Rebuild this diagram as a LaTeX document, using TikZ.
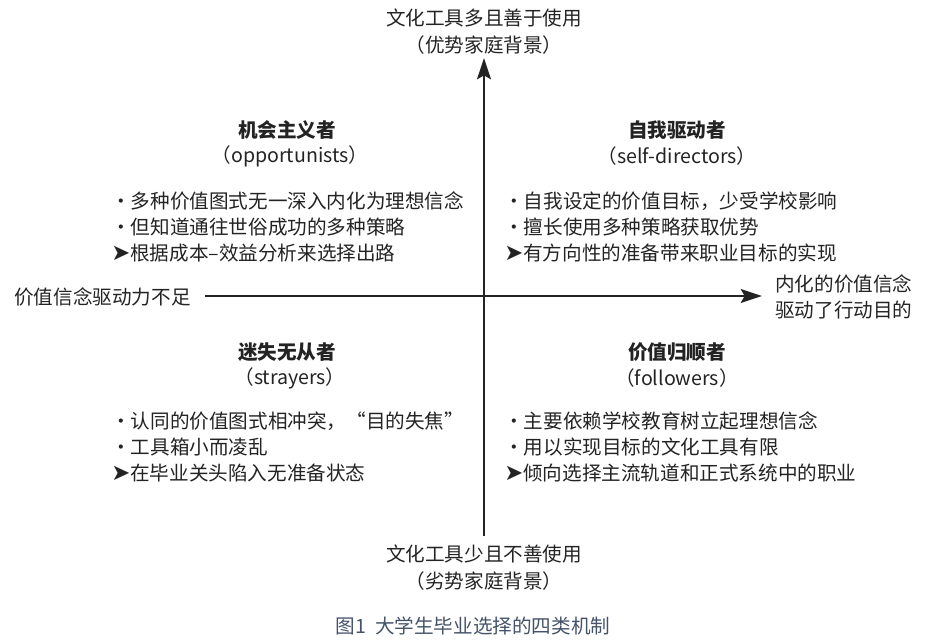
\documentclass[tikz,border=0pt]{standalone}
\usepackage{fontspec}
\setmainfont{Noto Sans CJK SC}
\newfontfamily\arrowfont{DejaVu Sans}
\usepackage{tikz}
\usetikzlibrary{arrows.meta,positioning}
\usepackage{xcolor}
\definecolor{ink}{HTML}{232323}
\definecolor{capt}{HTML}{45536A}
\newcommand{\dotitem}{・}
\newcommand{\arritem}{{\arrowfont\fontsize{17}{19.5}\selectfont ➤}}

\begin{document}
\begin{tikzpicture}[x=0.75pt, y=-0.75pt, >={Stealth[length=16pt,width=10.5pt,inset=3pt]},
    font=\fontsize{14.7}{19.5}\selectfont,
    every node/.style={text=ink, inner sep=0pt},
    kind/.style={font=\fontsize{14.7}{19.5}\selectfont\bfseries},
    items/.style={align=left, anchor=west}]
    \useasboundingbox (0,0) rectangle (932,643);
    % axes
    \coordinate (yb) at (484,536); \coordinate (yt) at (484,58);
    \coordinate (xl) at (205,296); \coordinate (xr) at (762,296);
    \draw[ink, line width=1.5pt, ->] (yb) -- (yt);
    \draw[ink, line width=1.5pt, ->] (xl) -- (xr);
    % axis labels
    \node (up1) at (484,18) {文化工具多且善于使用};
    \node (up2) at (484,45) {（优势家庭背景）};
    \node (down1) at (484,554) {文化工具少且不善使用};
    \node (down2) at (484,581) {（劣势家庭背景）};
    \node[anchor=west] (weak) at (14,297) {价值信念驱动力不足};
    \node[items] (strong) at (775,297) {内化的价值信念\\驱动了行动目的};
    % quadrants
    \node[kind] (opp) at (287,130) {机会主义者};
    \node (oppen) at (290,156) {（opportunists）};
    \node[items] (opplist) at (111,227) {\dotitem 多种价值图式无一深入内化为理想信念\\\dotitem 但知道通往世俗成功的多种策略\\\arritem 根据成本–效益分析来选择出路};
    \node[kind] (self) at (677,130) {自我驱动者};
    \node (selfen) at (677,156) {（self-directors）};
    \node[items] (selflist) at (504,227) {\dotitem 自我设定的价值目标，少受学校影响\\\dotitem 擅长使用多种策略获取优势\\\arritem 有方向性的准备带来职业目标的实现};
    \node[kind] (stray) at (287,352) {迷失无从者};
    \node (strayen) at (290,378) {（strayers）};
    \node[items] (straylist) at (111,447) {\dotitem 认同的价值图式相冲突，“目的失焦”\\\dotitem 工具箱小而凌乱\\\arritem 在毕业关头陷入无准备状态};
    \node[kind] (foll) at (677,352) {价值归顺者};
    \node (follen) at (677,378) {（followers）};
    \node[items] (folllist) at (504,447) {\dotitem 主要依赖学校教育树立起理想信念\\\dotitem 用以实现目标的文化工具有限\\\arritem 倾向选择主流轨道和正式系统中的职业};
    % caption
    \node[text=capt] (cap) at (473,626) {图1\ \ 大学生毕业选择的四类机制};
\end{tikzpicture}
\end{document}
